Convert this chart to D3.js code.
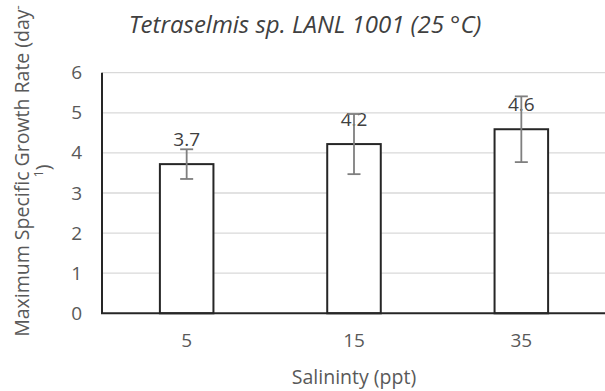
<!DOCTYPE html>
<html>
<head>
<meta charset="utf-8">
<script src="https://cdn.jsdelivr.net/npm/d3@7/dist/d3.min.js"></script>
<style>
  html, body { margin: 0; padding: 0; background: #fff; }
  svg { display: block; }
  text { font-family: "Open Sans", "Noto Sans", sans-serif; }
</style>
</head>
<body>
<svg id="chart" width="605" height="391"></svg>
<script>
// Salinity treatments and growth rates
const salinity = ["5", "15", "35"];
const growthRate = [3.72, 4.22, 4.59];
const growthErr = [0.37, 0.75, 0.82];
const rateLabels = ["3.7", "4.2", "4.6"];
const yTicks = [0, 1, 2, 3, 4, 5, 6];

const W = 605, H = 391;
const margin = { top: 72.7, right: 0, bottom: 391 - 313.3, left: 102 };

const svg = d3.select("#chart");

const x = d3.scaleBand()
  .domain(salinity)
  .range([margin.left + 1, W])
  .paddingInner(0.68)
  .paddingOuter(0.34);

const y = d3.scaleLinear()
  .domain([0, 6])
  .range([H - margin.bottom, margin.top]);

// horizontal gridlines
svg.append("g")
  .selectAll("line")
  .data(yTicks.filter(d => d > 0))
  .join("line")
  .attr("x1", margin.left)
  .attr("x2", W)
  .attr("y1", d => y(d))
  .attr("y2", d => y(d))
  .attr("stroke", "#d9d9d9")
  .attr("stroke-width", 1.3);

// y tick labels
const yAxis = d3.axisLeft(y).tickValues(yTicks).tickFormat(d3.format("d")).tickSize(0).tickPadding(20);
const gy = svg.append("g")
  .attr("transform", `translate(${margin.left},0)`)
  .call(yAxis);
gy.select(".domain").remove();
gy.selectAll("text")
  .attr("font-size", 19)
  .attr("fill", "#595959")
  .attr("font-family", "Open Sans");

// x tick labels
const xAxis = d3.axisBottom(x).tickSize(0).tickPadding(20);
const gx = svg.append("g")
  .attr("transform", `translate(0,${y(0)})`)
  .call(xAxis);
gx.select(".domain").remove();
gx.selectAll("text")
  .attr("font-size", 19)
  .attr("fill", "#595959")
  .attr("font-family", "Open Sans");

// bars
svg.append("g")
  .selectAll("rect")
  .data(salinity)
  .join("rect")
  .attr("x", d => x(d))
  .attr("y", (d, i) => y(growthRate[i]))
  .attr("width", x.bandwidth())
  .attr("height", (d, i) => y(0) - y(growthRate[i]))
  .attr("fill", "#fff")
  .attr("stroke", "#262626")
  .attr("stroke-width", 2);

// value labels
svg.append("g")
  .selectAll("text")
  .data(salinity)
  .join("text")
  .attr("x", d => x(d) + x.bandwidth() / 2)
  .attr("y", (d, i) => y(growthRate[i]) - 18)
  .attr("text-anchor", "middle")
  .attr("font-size", 19)
  .attr("fill", "#404040")
  .text((d, i) => rateLabels[i]);

// error bars
const eb = svg.append("g")
  .attr("stroke", "#7f7f7f")
  .attr("stroke-width", 1.8)
  .attr("fill", "none");
salinity.forEach((d, i) => {
  const cx = x(d) + x.bandwidth() / 2;
  const lo = y(growthRate[i] - growthErr[i]);
  const hi = y(growthRate[i] + growthErr[i]);
  eb.append("line").attr("x1", cx).attr("x2", cx).attr("y1", lo).attr("y2", hi);
  eb.append("line").attr("x1", cx - 6.5).attr("x2", cx + 6.5).attr("y1", lo).attr("y2", lo);
  eb.append("line").attr("x1", cx - 6.5).attr("x2", cx + 6.5).attr("y1", hi).attr("y2", hi);
});

// axis lines
svg.append("line")
  .attr("x1", margin.left).attr("x2", margin.left)
  .attr("y1", y(6)).attr("y2", y(0))
  .attr("stroke", "#262626").attr("stroke-width", 2);
svg.append("line")
  .attr("x1", margin.left - 1).attr("x2", W)
  .attr("y1", y(0)).attr("y2", y(0))
  .attr("stroke", "#262626").attr("stroke-width", 2);

// title
svg.append("text")
  .attr("x", 305)
  .attr("y", 33)
  .attr("text-anchor", "middle")
  .attr("font-size", 24)
  .attr("font-style", "italic")
  .attr("fill", "#404040")
  .text("Tetraselmis sp. LANL 1001 (25 °C)");

// x axis title
svg.append("text")
  .attr("x", 354)
  .attr("y", 384)
  .attr("text-anchor", "middle")
  .attr("font-size", 19.5)
  .attr("fill", "#595959")
  .text("Salininty (ppt)");

// y axis title, wrapped onto two lines
const yt = svg.append("text")
  .attr("transform", "translate(0,171) rotate(-90)")
  .attr("text-anchor", "middle")
  .attr("font-size", 19.5)
  .attr("fill", "#595959");
const l1 = yt.append("tspan").attr("x", 0).attr("y", 29);
l1.append("tspan").text("Maximum Specific Growth Rate (day");
l1.append("tspan").attr("font-size", 13).attr("dy", -7).text("-");
const l2 = yt.append("tspan").attr("x", 0).attr("y", 50);
l2.append("tspan").attr("font-size", 13).attr("dy", -7).text("1");
l2.append("tspan").attr("dy", 7).text(")");
</script>
</body>
</html>
